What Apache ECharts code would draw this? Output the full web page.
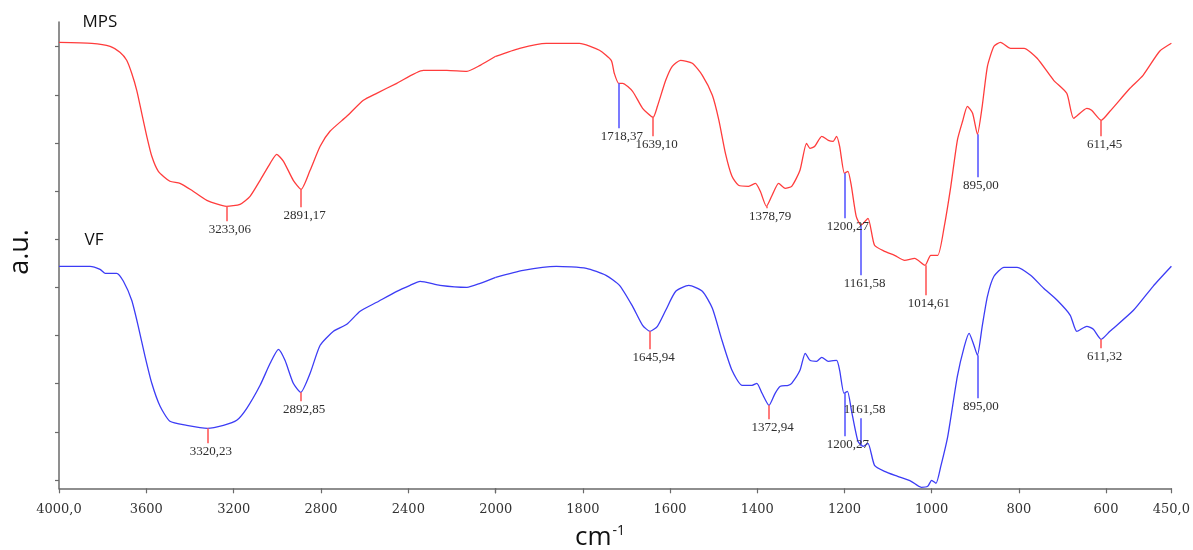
<!DOCTYPE html>
<html><head><meta charset="utf-8">
<script src="https://cdn.jsdelivr.net/npm/echarts@6/dist/echarts.min.js"></script>
<style>html,body{margin:0;padding:0;background:#fff}#c{width:1193px;height:550px}</style>
</head><body><div id="c"></div>
<script>
// wavenumber (cm-1), intensity (a.u.)
const mps = [
[4000,446],[3850,445],[3766,442],[3721,436],[3690,428],[3667,415],[3644,398],[3621,375],[3598,352],[3575,332],[3545,317],[3492,307],[3446,305],[3392,298],[3323,288],[3233,282],[3171,284],[3125,292],[3079,308],[3033,325],[3003,334],[2972,327],[2927,308],[2891,299],[2850,318],[2804,342],[2759,357],[2682,372],[2606,388],[2545,395],[2453,405],[2331,418],[2224,418],[2132,417],[2071,423],[2000,432],
[1945,440],[1884,445],[1808,445],[1762,438],[1735,428],[1728,415],[1718,405],[1709,405],[1686,397],[1663,380],[1639,371],[1629,382],[1610,408],[1595,422],[1576,428],[1549,425],[1526,413],[1503,393],[1488,368],[1473,335],[1458,312],[1443,303],[1420,302],[1404,305],[1393,297],[1379,282],[1367,292],[1351,305],[1336,300],[1321,302],[1302,318],[1287,345],[1279,340],[1268,342],[1252,352],[1237,348],[1226,347],[1218,352],[1211,342],[1200,315],[1192,317],[1184,302],[1173,272],[1162,263],[1146,270],[1131,243],[1108,237],[1085,233],[1062,228],[1039,230],[1015,223],[1002,233],[986,233],[971,262],[956,302],[941,348],[929,367],[918,382],[906,375],[895,354],[884,382],[872,422],[857,442],[842,446],[819,440],[788,440],[758,430],[720,408],[690,395],[674,370],[644,380],[633,378],[611,368],[591,377],[545,400],[515,413],[477,437],[450,445]
];
const vf = [
[4000,222],[3904,222],[3858,222],[3812,219],[3789,215],[3736,215],[3705,207],[3667,188],[3637,162],[3606,132],[3575,105],[3537,82],[3492,67],[3415,63],[3320,60],[3247,63],[3186,68],[3140,80],[3079,103],[3033,125],[2995,139],[2965,128],[2927,105],[2893,96],[2850,115],[2804,143],[2743,157],[2682,164],[2621,177],[2545,186],[2453,197],[2392,203],[2346,207],[2255,203],[2132,201],[2071,205],[2000,211],
[1937,218],[1861,222],[1792,220],[1747,213],[1716,203],[1686,182],[1663,163],[1646,157],[1629,162],[1610,178],[1587,197],[1557,203],[1526,197],[1503,180],[1481,148],[1458,118],[1435,103],[1412,103],[1401,105],[1389,95],[1373,83],[1359,95],[1347,102],[1329,103],[1321,105],[1302,118],[1290,135],[1279,128],[1264,127],[1252,131],[1237,127],[1218,128],[1211,118],[1201,95],[1193,97],[1184,78],[1169,47],[1157,42],[1146,45],[1131,23],[1108,17],[1078,12],[1047,7],[1024,1],[1009,2],[1000,8],[990,5],[979,22],[963,52],[941,112],[925,142],[914,155],[903,143],[895,133],[884,162],[872,192],[857,212],[834,221],[804,221],[773,213],[743,200],[712,188],[682,173],[667,157],[644,162],[629,159],[611,149],[591,157],[537,178],[492,202],[450,222]
];
// peaks: [wavenumber, label, curve value, line end value]
const mpsPeaksRed = [[3233.06,'3233,06',282,267],[2891.17,'2891,17',299,281],[1639.10,'1639,10',371,352],[1378.79,'1378,79',282,280],[1014.61,'1014,61',223,193],[611.45,'611,45',368,352]];
const mpsPeaksBlue = [[1718.37,'1718,37',405,360],[1200.27,'1200,27',315,270],[1161.58,'1161,58',263,213],[895.00,'895,00',354,311]];
const vfPeaksRed = [[3320.23,'3320,23',60,45],[2892.85,'2892,85',96,87],[1645.94,'1645,94',157,139],[1372.94,'1372,94',83,69],[611.32,'611,32',149,140]];
const vfPeaksBlue = [[1200.27,'1200,27',95,52],[1161.58,'1161,58',42,70],[895.00,'895,00',133,90]];
const xTicksRight = [2000,1800,1600,1400,1200,1000,800,600,450];
const xLabelsRight = [1800,1600,1400,1200,1000,800,600,450];
const yTicks = [8.3,56.5,104.6,152.8,200.9,249.1,297.2,345.4,393.5,441.7];

const RED_CURVE = '#ff3c3c', BLUE_CURVE = '#3c3cf5';
const RED_MARK = '#ff5a5a', BLUE_MARK = '#5a5aff';
const axisColor = '#6a6a6a';

function lines(peaks, color, side) {
  return peaks.filter(p => side === 0 ? p[0] >= 2000 : p[0] < 2000).map(p => [
    {coord: [p[0], p[2]], lineStyle: {color: color, width: 1.6, type: 'solid'},
     label: {show: true, position: 'end', formatter: p[1], distance: 2, fontFamily: 'Liberation Serif', fontSize: 13, color: '#2e2e2e', padding: [0, 0, 0, 7]}},
    {coord: [p[0], p[3]]}
  ]);
}
function part(data, side) {
  return data.filter(p => side === 0 ? p[0] >= 2000 : p[0] <= 2000);
}
const series = [];
[[mps, RED_CURVE, mpsPeaksRed, mpsPeaksBlue], [vf, BLUE_CURVE, vfPeaksRed, vfPeaksBlue]].forEach(([d, c, pr, pb]) => {
  [0, 1].forEach(side => {
    series.push({
      type: 'line', xAxisIndex: side, yAxisIndex: side, data: part(d, side),
      showSymbol: false, smooth: 0.2, animation: false,
      lineStyle: {color: c, width: 1.3},
      markLine: {silent: true, symbol: ['none', 'none'], animation: false,
        data: lines(pr, RED_MARK, side).concat(lines(pb, BLUE_MARK, side))}
    });
  });
});

const xCommon = {
  type: 'value', inverse: true, splitLine: {show: false},
  axisLine: {lineStyle: {color: axisColor, width: 1.5}},
  axisTick: {length: 5, lineStyle: {color: axisColor, width: 1.2}},
  axisLabel: {margin: 15, fontFamily: 'DejaVu Serif', fontSize: 13, color: '#333'}
};
const chart = echarts.init(document.getElementById('c'));
chart.setOption({
  backgroundColor: '#fff',
  animation: false,
  grid: [
    {left: 59, top: 22, width: 436.7, height: 466.3},
    {left: 495.7, top: 22, width: 679.3, height: 466.3}
  ],
  xAxis: [
    Object.assign({}, xCommon, {gridIndex: 0, min: 2000, max: 4000, interval: 400,
      axisLabel: Object.assign({}, xCommon.axisLabel, {formatter: v => v === 4000 ? '4000,0' : String(v)})}),
    Object.assign({}, xCommon, {gridIndex: 1, min: 450, max: 2000,
      axisTick: Object.assign({}, xCommon.axisTick, {customValues: xTicksRight}),
      axisLabel: Object.assign({}, xCommon.axisLabel, {customValues: xLabelsRight, formatter: v => v === 450 ? '450,0' : String(v)})})
  ],
  yAxis: [
    {type: 'value', gridIndex: 0, min: 0, max: 466.3, splitLine: {show: false},
     axisLine: {show: true, lineStyle: {color: axisColor, width: 1.5}},
     axisTick: {show: true, length: 4, customValues: yTicks, lineStyle: {color: axisColor, width: 1.2}},
     axisLabel: {show: false}},
    {type: 'value', gridIndex: 1, min: 0, max: 466.3, show: false}
  ],
  graphic: [
    {type: 'text', x: 100, y: 22, style: {text: 'MPS', fontFamily: 'Open Sans', fontSize: 17, fill: '#111', align: 'center', verticalAlign: 'middle'}},
    {type: 'text', x: 94, y: 240, style: {text: 'VF', fontFamily: 'Open Sans', fontSize: 17, fill: '#111', align: 'center', verticalAlign: 'middle'}},
    {type: 'text', x: 20, y: 252, rotation: Math.PI / 2, style: {text: 'a.u.', fontFamily: 'Open Sans', fontSize: 27, fill: '#111', align: 'center', verticalAlign: 'middle'}},
    {type: 'text', x: 600, y: 538, style: {text: '{a|cm}{b|-1}', fill: '#111', align: 'center', verticalAlign: 'middle',
      rich: {a: {fontFamily: 'Open Sans', fontSize: 26, fill: '#111'}, b: {fontFamily: 'Open Sans', fontSize: 14, fill: '#111', padding: [0, 0, 14, 1]}}}}
  ],
  series: series
});
</script>
</body></html>
